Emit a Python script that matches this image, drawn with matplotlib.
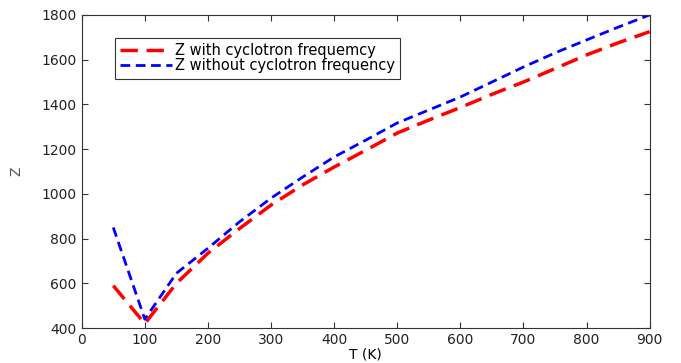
import numpy as np
import matplotlib.pyplot as plt

plt.rcParams.update({
    'font.family': 'sans-serif',
    'font.sans-serif': ['DejaVu Sans'],
    'xtick.direction': 'in',
    'ytick.direction': 'in',
    'xtick.top': True,
    'ytick.right': True,
})

# Temperature (K)
T = [50, 100, 150, 200, 250, 300, 350, 400, 450, 500, 550, 600, 650, 700, 750, 800, 850, 900]
# Z with cyclotron frequency
z_with = [590, 420, 600, 735, 845, 950, 1040, 1120, 1195, 1272, 1330, 1386, 1445, 1500, 1560, 1621, 1675, 1725]
# Z without cyclotron frequency
z_without = [850, 440, 645, 757, 875, 981, 1075, 1165, 1240, 1317, 1375, 1433, 1500, 1567, 1630, 1688, 1745, 1800]

fig = plt.figure(figsize=(6.81, 3.63), dpi=100)
ax = fig.add_axes([0.120, 0.096, 0.834, 0.863])

ax.plot(T, z_with, color='red', linewidth=2.5, dashes=(5, 2.5),
        label='Z with cyclotron frequemcy')
ax.plot(T, z_without, color='blue', linewidth=2, dashes=(3.5, 2),
        label='Z without cyclotron frequency')

ax.set_xlim(0, 900)
ax.set_ylim(400, 1800)
ax.set_xticks(np.arange(0, 901, 100))
ax.set_yticks(np.arange(400, 1801, 200))
ax.tick_params(labelsize=10, length=4, color='#333333', labelcolor='#222222')
for sp in ax.spines.values():
    sp.set_color('#333333')

ax.set_xlabel('T (K)', fontsize=10, labelpad=0)
ax.set_ylabel('Z', fontsize=10, labelpad=13, color='#555555')

leg = ax.legend(loc='upper left', bbox_to_anchor=(0.058, 0.925), fontsize=10.5,
                frameon=True, fancybox=False, handlelength=3.6,
                borderpad=0.35, labelspacing=0.0, handletextpad=0.2,
                borderaxespad=0)
leg.get_frame().set_edgecolor('black')
leg.get_frame().set_linewidth(0.8)

plt.savefig('out.png', dpi=100)
